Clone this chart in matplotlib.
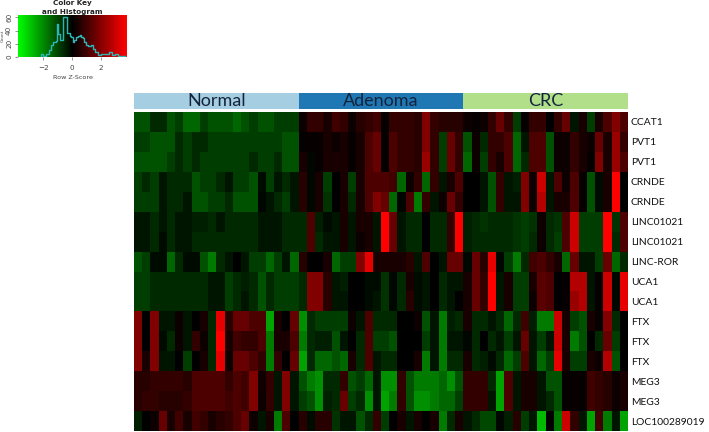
import numpy as np
import matplotlib
matplotlib.use('Agg')
import matplotlib.pyplot as plt
from matplotlib.colors import LinearSegmentedColormap, TwoSlopeNorm

genes = ['CCAT1', 'PVT1', 'PVT1', 'CRNDE', 'CRNDE', 'LINC01021', 'LINC01021', 'LINC-ROR',
         'UCA1', 'UCA1', 'FTX', 'FTX', 'FTX', 'MEG3', 'MEG3', 'LOC100289019']
groups = ['Normal', 'Adenoma', 'CRC']
group_colors = ['#a6cee3', '#1f78b4', '#b2df8a']

# row z-score x 0.1 (rough), one list per group
normal = [
    [-4, -4, -2, -2, -4, -3, -5, -5, -3, -4, -4, -4, -5, -4, -3, -4, -4, -3, -3, -3],
    [-3, -3, -4, -4, -4, -2, -3, -2, -2, -3, -3, -3, -3, -3, -3, -3, -3, -3, -4, -4],
    [-4, -4, -4, -4, -3, -2, -3, -2, -3, -3, -3, -3, -3, -3, -2, -3, -3, -2, -4, -4],
    [-3, -2, -3, -1, -2, -2, -2, -4, -3, -3, -2, -1, -3, -3, -4, -0.5, -3, -1, -2, -1],
    [-3, -3, -3, -1, -2, -2, -1, -4, -4, -3, -3, -2, -4, -4, -4, -0.3, -1, -2, -3, -1],
    [-1, -1, -2, -1, -2, -1, -1, -1.5, -1.5, -2, -1, -2, -2, -2, -2, -1, -1, -1, -2, -2],
    [-1, -1, -2, -0.5, -2, -1, -1, -2, -2, -2, -2, -2, -2, -2, -2, -1, -1, -1, -2, -2],
    [-4, -3, -0.5, -0.5, -5, -2, -0.5, -0.5, -4, -6, -2, -1, 0, -1, -3, -3, -5, -3, -1, -5],
    [-3, -3, -2, -2, -2, -2, -2, -2, -2, -1, -1, -3, -2, -1.5, -2, -4, -2, -3, -3, -3],
    [-3, -3, -2, -2, -2, -2, -2, -2, -2, -1, -1, -3, -2, -1, -2, -4, -2, -3, -3, -3],
    [5, 0, 5, -1, -1, 0.5, -1, 0, 1, -2, 9, 1.5, 4, 4, 3, 3, -8, 1, 0, 4],
    [5, 0, 5, -0.5, -2, 0.5, -1, 2, 0.5, -2, 10, 1, 2.5, 2, 2, 3, -6, 1, 1, 3],
    [5, 1, 5, -1, -1, 0, -3, 0, 1, -2, 9, 0.5, 4, 4, 3, 2, -6, 2, 0, 4],
    [1.5, 1.5, 2, 2, 2, 2, 1.5, 3, 3, 3, 3, 2, 3, 2.5, 5, 0.7, 2, -1, 5, -1],
    [1.5, 2, 2, 1.5, 1.5, 1.5, 2, 3, 3, 3, 3, 2.5, 3, 2.5, 5, 0.5, 2, -1, 5, -1],
    [-1.5, 0, 0.5, 4, 1, 2.5, 1, 2.5, 2, 1, 1.5, 2, 3, 4, 0.5, -1, 1, -6, 3, 0],
]
adenoma = [
    [0.5, 2, 2, 1, 2.5, 2, 0.5, 1.5, 2, 2.5, 0.3, 2, 2, 2, 1.5, 5, 2, 1.5, 1.5, 1.5],
    [0.3, 0.3, 0.3, 1, 0.5, 1, 0.3, 1, 3, 4, 0.3, 3, 2, 2, 1.5, 5, 2, -3, 4, 2],
    [1, -0.3, 0.3, 1, 1, 1, 0.3, 1, 3, 4, 0.3, 3, 2, 2, 1.5, 6, 2, -3, 4, 2],
    [1.5, -0.3, 1, -3, 0, 1, -3, 1, 3, 3, 3, 2.5, -5, 0.5, 2, -5, 2, -1, 1, 3],
    [1.5, -0.3, 1, -2.5, 0, 1, -2, 1, 3, 5, 4, -5, -0.2, 3, -6, 2, -1, 0.5, 4, 2],
    [-2, 3, -1.5, -0.5, -1, 1, -1, 1, 1, -1, 10, 4, -1, -2, -2, 0, -2, -2, 2, 10],
    [-2, 3, -2, -1, -1, 1, -1, 0.5, 1, -1, 10, 4, -1, -2, -2, 0, -2, -2, 2, 10],
    [1.5, 0, 0, 1, -5, -3, -3, 5, 9, 1, 1, 1, 1, 1.5, -1, 3, 0, -1, 4, 4],
    [-2, 5, 5, 1.5, -1, -1.5, 0, 0, -0.5, -0.5, -2.5, -0.3, -2, 1, -0.5, -1, 0, -2, -1, -1],
    [-2, 5, 5, 1.5, -1, -1, 0, 0, -0.5, -1, -2.5, -0.3, -2, 1.5, -0.5, -1, 0, -2, -1, 0],
    [-7, -2, -3, -3, -3, -3, 0.5, -1, 3, -2, -2, -2, 0, 0, 0.5, -4, -1, -6, -1.5, -2],
    [-6, -2, -1.5, -1.5, -4, -1, 0, -2, 3, -3, -3, -4, 0, 0, 0, -3, -1, -6, -1, -1],
    [-8, -2, -5, -5, -4, -5, 1, -2, 3, -1, -2, -2, 0, 0, 1, -6, -1, -6, -2, -2],
    [-4, -6, -7, -2, -2, 2, -4, -3, -5, -1, -7, -7, 2, -4, -6, -6, -6, -5, -7, -4],
    [-3, -4, -7, -1.5, -2, 4, -3, -2, -7, -1, -8, -6, 2, -4, -7, -7, -6, -5, -5, -3],
    [1.5, -0.5, 1.5, 1.5, -2.5, -1, -1, -4, -2, 2, -3, 0, 1, -1, 1, 0, 1, -6, -2, 1],
]
crc = [
    [0.5, 0.3, 0.5, 2, 4, 2, -3, 0.3, 2, 2, 0, 2, 4, -1, 1, -3, 1, 3, 5, 3],
    [-4, 0.5, -2, 2, 2, 3, -5, -1, 3, 3, -4, 0.5, 0.5, 2, 1, 0.5, 4, 1, 6, 2],
    [-5, 0.5, -3, 2, 1, 3, -5, -2, 3, 3, -4, 0.5, 0.5, 2, 1, 0.2, 5, 1, 6, 3],
    [0, 0, -1, -4, 2, -1, -1.5, 5, 0.5, 8, -1, 3, 0.5, 3, 0.3, -4, -0.5, 1, 10, 0],
    [0, 0, -1, -4, 2, -1, -1, 5, 0.5, 7, -1, 1, 1, 3, 0.3, -4, -0.5, 1, 10, 0],
    [-1.5, -2, -2.5, -2, -2, -2, -2.5, -3, -2.5, 0.5, -2, -2.5, 3, 8, -3, -3, -3, 10, -2.5, 3],
    [-1.5, -2, -2, -2, -2, -2, -2.5, -3, -2, 0.5, -2, -3, 3, 8, -3, -3, -3, 10, -2, 3],
    [-0.3, 4, 1.5, 9, -0.3, -3, -6, -2, 2.5, 3, 2, 1, -5, 4, -1, -1, -3, 4, -5, -2],
    [1, 4, 2, 10, -1, 1, -3, -3, 1, 3.5, 3, 0, 0.3, 7, 7, -1, 0.3, 8, -0.3, 9],
    [1, 4, 2, 10, -1, 1, -3, -3, 0.5, 3.5, 3, 0, 0.3, 6, 7, -1, 0.3, 8, -0.3, 9],
    [1, -2, -2, -1, -2, -5, -2, 2.5, -1.5, -6, -6, 8, 1, -3, -4, 1, 0.3, 5, -2, 0],
    [-0.3, -2, 0, -2, -1, -3, -1, 4, -1, -3, -1, 8, 1, -6, -4, 0, -2, 4, -3, 0],
    [1, -2, -1.5, -0.5, -2, -5, -3, 3, -1, -5, -3, 9, 1, -3, -3, 1, 0.5, 7, -4, 0],
    [2, 2, 2, -2, -8, 3, -1, 1, 1, -1, -4, -4, 0.3, 0.3, 0.3, 2.5, 2, 1.5, 0.5, 1],
    [2, 2, 2, -1, -8, 3, -1, 1, 1, -1, -2, -4, 0.3, 0.3, 0.3, 2.5, 2, 1.5, 0.5, 1],
    [-1, -2, -3.5, -3.5, -0.3, -1.5, 1.5, -3, -1, -9, 0, -6, 8, 2, -1, -8, 2.5, -6, -1, -8],
]

# histogram of the colour key
hist_x = [-2.2, -2.1, -1.9, -1.7, -1.5, -1.4, -1.2, -1.1, -1.0, -0.9, -0.8, -0.7, -0.6, -0.5, -0.4, -0.3, -0.2, -0.1,
          0.0, 0.1, 0.2, 0.3, 0.5, 0.6, 0.7, 0.8, 0.9, 1.0, 1.2, 1.4, 1.5, 1.7, 1.9, 2.1, 2.3, 2.5, 2.7, 2.9, 3.1, 3.3, 3.5, 3.7]
hist_y = [0, 4, 1, 5, 10, 18, 22, 24, 50, 35, 25, 25, 60, 61, 60, 36, 37, 32,
          30, 23, 25, 30, 32, 34, 30, 28, 22, 18, 17, 18, 12, 8, 3, 5, 4, 5, 8, 3, 4, 2, 2, 1]

W, H = 709., 432.
cmap = LinearSegmentedColormap.from_list('gbr', ['#00ff00', '#000000', '#ff0000'])


def px_axes(x0, y0, x1, y1):
    # axes from pixel box, y counted from the top
    return fig.add_axes([x0 / W, 1 - y1 / H, (x1 - x0) / W, (y1 - y0) / H])


fig = plt.figure(figsize=(7.09, 4.32), dpi=100)

# heatmap, greens in the picture run darker than the reds
data = np.hstack([np.array(normal), np.array(adenoma), np.array(crc)])
ax = px_axes(134, 112, 628, 431)
ax.pcolormesh(data[::-1], cmap=cmap, norm=TwoSlopeNorm(vmin=-12.5, vcenter=0, vmax=10))
ax.set_xticks([])
ax.yaxis.tick_right()
ax.set_yticks(np.arange(len(genes)) + 0.5)
ax.set_yticklabels(genes[::-1], family='Lato', fontsize=7.4, color='#111111')
ax.tick_params(axis='y', length=0, pad=2)
for s in ax.spines.values():
    s.set_visible(False)

# group bar
bar = px_axes(134, 93, 628, 108.5)
bar.set_xlim(0, 3)
bar.set_ylim(0, 1)
for i, g in enumerate(groups):
    bar.barh(0.5, 1, left=i, height=1, color=group_colors[i])
    bar.text(i + 0.5, 0.47, g, ha='center', va='center', family='Lato', fontsize=13, color='#14233c')
bar.axis('off')

# colour key
key = px_axes(18.3, 14.7, 127, 57)
xlim = (-3.76, 3.85)
key.imshow(np.linspace(-1, 1, 256).reshape(1, -1), cmap=cmap, aspect='auto', extent=[xlim[0], xlim[1], 0, 64])
key.step(hist_x, hist_y, where='mid', color='#2fb5b5', lw=1.0)
key.set_xlim(xlim)
key.set_ylim(0, 64)
key.set_xticks([-2, 0, 2])
key.set_yticks([0, 20, 40, 60])
key.tick_params(labelsize=5.2, length=2.5, width=0.4, pad=2, colors='#444444')
key.tick_params(axis='x', pad=3.5)
plt.setp(key.get_yticklabels(), rotation=90, va='center')
key.set_xlabel('Row Z-Score', fontsize=4.6, labelpad=2.5, color='#444444')
key.set_ylabel('Count', fontsize=3, labelpad=1, color='#444444')
for s in key.spines.values():
    s.set_visible(False)
fig.text(72.5 / W, 1 - 3.5 / H, 'Color Key', ha='center', va='center', fontsize=5.2, fontweight='bold', color='#222222')
fig.text(72.5 / W, 1 - 12 / H, 'and Histogram', ha='center', va='center', fontsize=5.2, fontweight='bold', color='#222222')

fig.savefig('out.png', dpi=100)
